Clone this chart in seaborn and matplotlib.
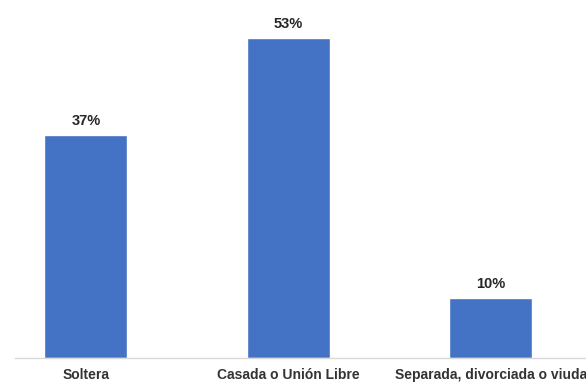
import pandas as pd
import matplotlib
matplotlib.use("Agg")
import matplotlib.pyplot as plt
import seaborn as sns

categories = ["Soltera", "Casada o Unión Libre", "Separada, divorciada o viuda"]
values = [37, 53, 10]
labels = ["37%", "53%", "10%"]

df = pd.DataFrame({"estado": categories, "pct": values})

sns.set_style("white")
plt.rcParams['font.family'] = ['Liberation Sans', 'DejaVu Sans']

fig = plt.figure(figsize=(5.86, 3.82), dpi=100)
ax = fig.add_axes([15 / 586, 24 / 382, 577 / 586, 350 / 382])

sns.barplot(data=df, x="estado", y="pct", color="#4472C4", width=0.41,
            saturation=1, ax=ax)

for i, (v, lab) in enumerate(zip(values, labels)):
    ax.annotate(lab, (i, v), xytext=(0, 5), textcoords="offset points",
                ha="center", va="bottom", fontsize=10.5, fontweight="bold",
                color="#262626")

ax.set_xlim(-0.35, 2.5)
ax.set_ylim(0, 58)
ax.set_xlabel("")
ax.set_ylabel("")
ax.set_yticks([])
ax.tick_params(axis="x", length=0, pad=7, labelsize=10, labelcolor="#333333")
for t in ax.get_xticklabels():
    t.set_fontweight("bold")

for s in ["top", "right", "left"]:
    ax.spines[s].set_visible(False)
ax.spines["bottom"].set_color("#D9D9D9")
ax.spines["bottom"].set_linewidth(1)

fig.savefig("out.png", dpi=100)
